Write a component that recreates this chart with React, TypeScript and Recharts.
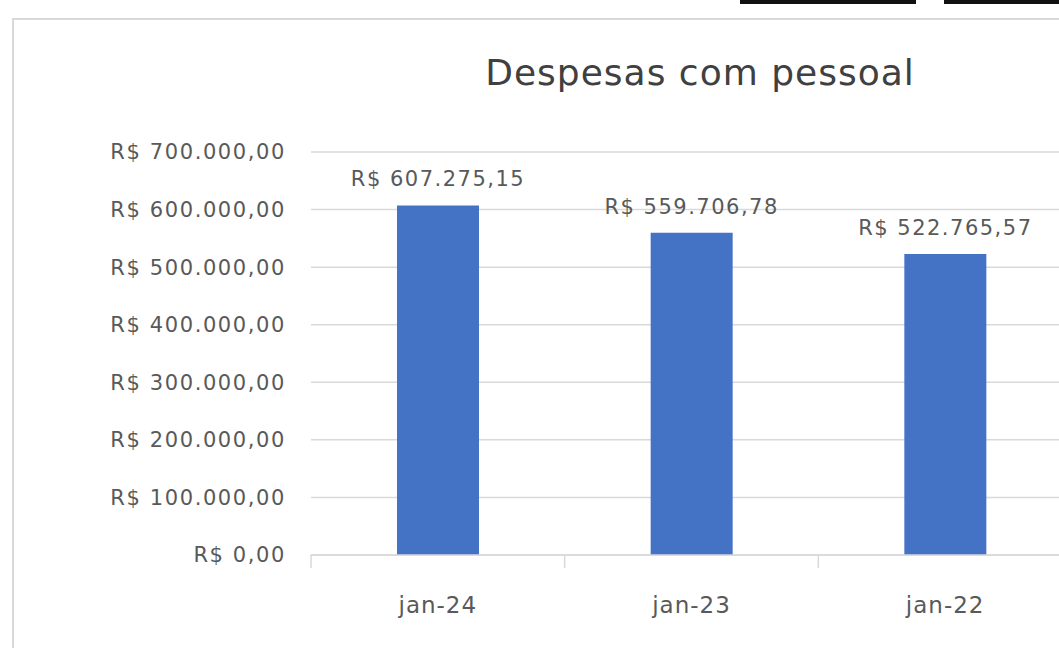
import React from "react"
import { BarChart, Bar, XAxis, YAxis, CartesianGrid, LabelList } from "recharts"

// Valores
const periods = ["jan-24", "jan-23", "jan-22"]
const personnelCosts = [607275.15, 559706.78, 522765.57]
const yTicks = [0, 100000, 200000, 300000, 400000, 500000, 600000, 700000]

const chartData = periods.map((period, i) => ({ period, value: personnelCosts[i] }))

const brl = (v: number) =>
    "R$ " + v.toLocaleString("pt-BR", { minimumFractionDigits: 2, maximumFractionDigits: 2 })

const FONT = "'DejaVu Sans', Verdana, sans-serif"
const TEXT = "#595959"

// Excel-style category tick: label centered, short tick at the left band edge
const CategoryTick = (props: any) => {
    const { x, y, payload } = props
    const half = payload.offset ?? 0
    return (
        <g>
            <line x1={x - half} x2={x - half} y1={y - 8} y2={y + 5} stroke="#d9d9d9" strokeWidth={1.5} />
            <text x={x} y={y + 50} textAnchor="middle" fill={TEXT} fontSize={23} letterSpacing={1} fontFamily={FONT}>
                {payload.value}
            </text>
        </g>
    )
}

// value label above each bar, kept on one line
const ValueLabel = (props: any) => {
    const { x, y, width, value } = props
    return (
        <text x={x + width / 2} y={y - 19} textAnchor="middle" fill={TEXT} fontSize={21} letterSpacing={1.5} fontFamily={FONT}>
            {brl(Number(value))}
        </text>
    )
}

export default function App() {
    return (
        <div style={{ position: "fixed", left: 0, top: 0, width: 1059, height: 648, overflow: "hidden", background: "#fff" }}>
            <div style={{ position: "absolute", left: 12, top: 18, width: 1100, height: 700, border: "2px solid #d9d9d9" }} />
            <div
                style={{
                    position: "absolute",
                    left: 700,
                    top: 55,
                    transform: "translateX(-50%)",
                    whiteSpace: "nowrap",
                    fontFamily: FONT,
                    fontSize: 36,
                    lineHeight: "36px",
                    letterSpacing: 1,
                    color: "#404040",
                }}
            >
                Despesas com pessoal
            </div>
            <div style={{ position: "absolute", left: 0, top: 0 }}>
                <BarChart
                    width={1100}
                    height={648}
                    data={chartData}
                    margin={{ top: 152, right: 28, bottom: 0, left: 0 }}
                >
                    <CartesianGrid vertical={false} stroke="#d9d9d9" strokeWidth={1.5} />
                    <XAxis
                        dataKey="period"
                        axisLine={{ stroke: "#d9d9d9", strokeWidth: 1.5 }}
                        tickLine={false}
                        tick={<CategoryTick />}
                        height={93}
                        interval={0}
                    />
                    <YAxis
                        width={311}
                        domain={[0, 700000]}
                        ticks={yTicks}
                        axisLine={false}
                        tickLine={false}
                        tickSize={0}
                        tickMargin={25}
                        tickFormatter={brl}
                        tick={{ fill: TEXT, fontSize: 21, fontFamily: FONT, letterSpacing: 1.6 }}
                    />
                    <Bar dataKey="value" fill="#4472c4" barSize={82} isAnimationActive={false}>
                        <LabelList dataKey="value" content={<ValueLabel />} />
                    </Bar>
                </BarChart>
            </div>
            <div style={{ position: "absolute", left: 740, top: 0, width: 176, height: 4, background: "#111", zIndex: 5 }} />
            <div style={{ position: "absolute", left: 944, top: 0, width: 130, height: 4, background: "#111", zIndex: 5 }} />
        </div>
    )
}
